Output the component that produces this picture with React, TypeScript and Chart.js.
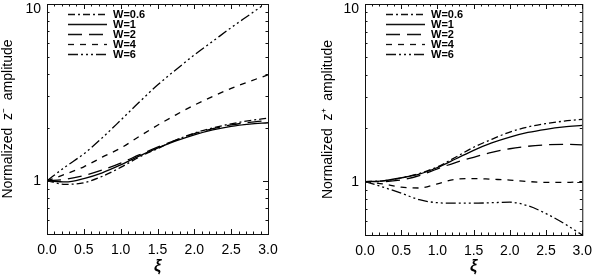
import React, { useEffect, useRef } from "react";
import { Chart, registerables } from "chart.js";

Chart.register(...registerables);

// ---------- data ----------
const XI = [0, 0.25, 0.5, 0.75, 1.0, 1.25, 1.5, 1.75, 2.0, 2.25, 2.5, 2.75, 3.0];
const SERIES_LABELS = ["W=0.6", "W=1", "W=2", "W=4", "W=6"];

// Left panel: normalized z- amplitude
const ZM_W06 = [1, 0.955, 0.975, 1.06, 1.19, 1.36, 1.52, 1.7, 1.86, 1.99, 2.1, 2.19, 2.26];
const ZM_W1 = [1, 0.985, 1.03, 1.11, 1.23, 1.38, 1.53, 1.68, 1.82, 1.94, 2.03, 2.09, 2.13];
const ZM_W2 = [1, 1.02, 1.07, 1.15, 1.26, 1.4, 1.55, 1.7, 1.85, 1.97, 2.07, 2.14, 2.19];
const ZM_W4 = [1, 1.09, 1.2, 1.36, 1.53, 1.78, 2.06, 2.36, 2.68, 3.0, 3.33, 3.65, 3.97];
const ZM_W6 = [1, 1.2, 1.42, 1.75, 2.2, 2.78, 3.48, 4.25, 5.15, 6.15, 7.35, 8.7, 10.3];

// Right panel: normalized z+ amplitude
const ZP_W06 = [1, 1.01, 1.05, 1.11, 1.21, 1.37, 1.56, 1.73, 1.9, 2.03, 2.12, 2.19, 2.24];
const ZP_W1 = [1, 1.01, 1.05, 1.1, 1.2, 1.34, 1.5, 1.65, 1.78, 1.89, 1.97, 2.03, 2.07];
const ZP_W2 = [1, 1.0, 1.02, 1.08, 1.18, 1.28, 1.37, 1.46, 1.53, 1.58, 1.61, 1.62, 1.61];
const ZP_W4 = [1, 0.97, 0.93, 0.92, 0.97, 1.03, 1.04, 1.03, 1.02, 1.0, 0.99, 0.99, 1.0];
const ZP_W6 = [1, 0.93, 0.86, 0.79, 0.76, 0.755, 0.755, 0.76, 0.765, 0.73, 0.66, 0.58, 0.5];

const X_TICKS = [0, 0.5, 1.0, 1.5, 2.0, 2.5, 3.0];
const Y_MAJOR = [1, 10];
const Y_MINOR = [0.5, 0.6, 0.7, 0.8, 0.9, 2, 3, 4, 5, 6, 7, 8, 9];

const Y_TITLE_MINUS = "Normalized  z\u207B  amplitude";
const Y_TITLE_PLUS = "Normalized  z\u207A  amplitude";
const X_TITLE = "\u03BE";

// ---------- styles ----------
const FONT = "'Liberation Sans', Arial, Helvetica, sans-serif";
const DASHES = [[7, 3, 2, 3], [], [14, 7], [6, 6], [10, 3, 2, 3, 2, 3, 2, 3]];

const idlPlugin = {
  id: "idlFrame",
  afterDatasetsDraw(chart: any) {
    const { ctx, chartArea: a, scales } = chart;
    const xs = scales.x;
    const ys = scales.y;
    const MAJ = 5;
    const MIN = 2.5;
    ctx.save();
    ctx.strokeStyle = "#111";
    ctx.fillStyle = "#000";
    ctx.lineWidth = 1;
    ctx.setLineDash([]);
    ctx.strokeRect(a.left + 0.5, a.top + 0.5, a.right - a.left, a.bottom - a.top);
    const seg = (x1: number, y1: number, x2: number, y2: number) => {
      ctx.beginPath();
      ctx.moveTo(x1, y1);
      ctx.lineTo(x2, y2);
      ctx.stroke();
    };
    // x ticks (major + minor), bottom and top
    for (let k = 0; k <= 30; k++) {
      const v = k / 10;
      const isMaj = X_TICKS.some((t) => Math.abs(t - v) < 1e-6);
      const len = isMaj ? MAJ : MIN;
      const px = Math.round(xs.getPixelForValue(v)) + 0.5;
      seg(px, a.bottom, px, a.bottom - len);
      seg(px, a.top, px, a.top + len);
    }
    // y ticks
    const yt = (v: number, len: number) => {
      const py = Math.round(ys.getPixelForValue(v)) + 0.5;
      seg(a.left, py, a.left + len, py);
      seg(a.right, py, a.right - len, py);
    };
    Y_MAJOR.forEach((v) => yt(v, MAJ));
    Y_MINOR.forEach((v) => yt(v, MIN));
    // y tick labels
    ctx.font = `14px ${FONT}`;
    ctx.textAlign = "right";
    ctx.textBaseline = "middle";
    Y_MAJOR.forEach((v) => {
      const p = ys.getPixelForValue(v);
      ctx.fillText(String(v), a.left - 6, Math.max(p + 0.5, a.top + 5));
    });
    // legend
    chart.data.datasets.forEach((d: any, i: number) => {
      const y = a.top + 10.5 + 10 * i;
      ctx.lineWidth = 1.3;
      ctx.setLineDash(d.borderDash || []);
      seg(a.left + 21, y, a.left + 60, y);
      ctx.setLineDash([]);
      ctx.font = `bold 11px ${FONT}`;
      ctx.textAlign = "left";
      ctx.textBaseline = "middle";
      ctx.fillText(d.label, a.left + 66, y + 0.5);
    });
    ctx.restore();
  },
};

type PanelCfg = {
  series: number[][];
  yTitle: string;
  yWidth: number;
  xHeight: number;
  padRight: number;
  titlePad: number;
};

function makeChart(canvas: HTMLCanvasElement, cfg: PanelCfg) {
  const datasets = cfg.series.map((arr, i) => ({
    label: SERIES_LABELS[i],
    data: XI.map((x, j) => ({ x, y: arr[j] })),
    borderColor: "#000",
    borderWidth: 1.3,
    borderDash: DASHES[i],
    pointRadius: 0,
    fill: false,
    cubicInterpolationMode: "monotone" as const,
  }));
  return new Chart(canvas, {
    type: "line",
    data: { datasets },
    plugins: [idlPlugin],
    options: {
      animation: false,
      responsive: false,
      layout: { padding: { left: 0, right: cfg.padRight, top: 4, bottom: 0 } },
      plugins: { legend: { display: false }, tooltip: { enabled: false } },
      scales: {
        x: {
          type: "linear",
          min: 0,
          max: 3,
          grid: { display: false, drawTicks: false },
          border: { display: false },
          ticks: {
            stepSize: 0.5,
            autoSkip: false,
            maxRotation: 0,
            padding: 8,
            color: "#000",
            font: { size: 14, family: FONT },
            callback: (v: any) => Number(v).toFixed(1),
          },
          title: {
            display: true,
            text: X_TITLE,
            color: "#000",
            font: { size: 16, weight: "bold", style: "italic", family: FONT },
            padding: { top: 0, bottom: 2 },
          },
          afterFit: (s: any) => {
            s.height = cfg.xHeight;
          },
        },
        y: {
          type: "logarithmic",
          min: 0.5,
          max: 10,
          grid: { display: false, drawTicks: false },
          border: { display: false },
          ticks: { display: false },
          title: {
            display: true,
            text: cfg.yTitle,
            color: "#000",
            font: { size: 14, family: FONT },
            padding: { top: cfg.titlePad, bottom: 0 },
          },
          afterFit: (s: any) => {
            s.width = cfg.yWidth;
          },
        },
      },
    },
  } as any);
}

export default function App() {
  const leftRef = useRef<HTMLCanvasElement>(null);
  const rightRef = useRef<HTMLCanvasElement>(null);

  useEffect(() => {
    const c1 = makeChart(leftRef.current!, {
      series: [ZM_W06, ZM_W1, ZM_W2, ZM_W4, ZM_W6],
      yTitle: Y_TITLE_MINUS,
      yWidth: 47,
      xHeight: 44,
      padRight: 32,
      titlePad: 0,
    });
    const c2 = makeChart(rightRef.current!, {
      series: [ZP_W06, ZP_W1, ZP_W2, ZP_W4, ZP_W6],
      yTitle: Y_TITLE_PLUS,
      yWidth: 65,
      xHeight: 43,
      padRight: 13,
      titlePad: 20,
    });
    return () => {
      c1.destroy();
      c2.destroy();
    };
  }, []);

  return (
    <div style={{ position: "fixed", left: 0, top: 0, width: 600, height: 278, background: "#fff" }}>
      <canvas
        ref={leftRef}
        width={300}
        height={278}
        style={{ position: "absolute", left: 0, top: 0, width: 300, height: 278, display: "block" }}
      />
      <canvas
        ref={rightRef}
        width={300}
        height={278}
        style={{ position: "absolute", left: 300, top: 0, width: 300, height: 278, display: "block" }}
      />
    </div>
  );
}
